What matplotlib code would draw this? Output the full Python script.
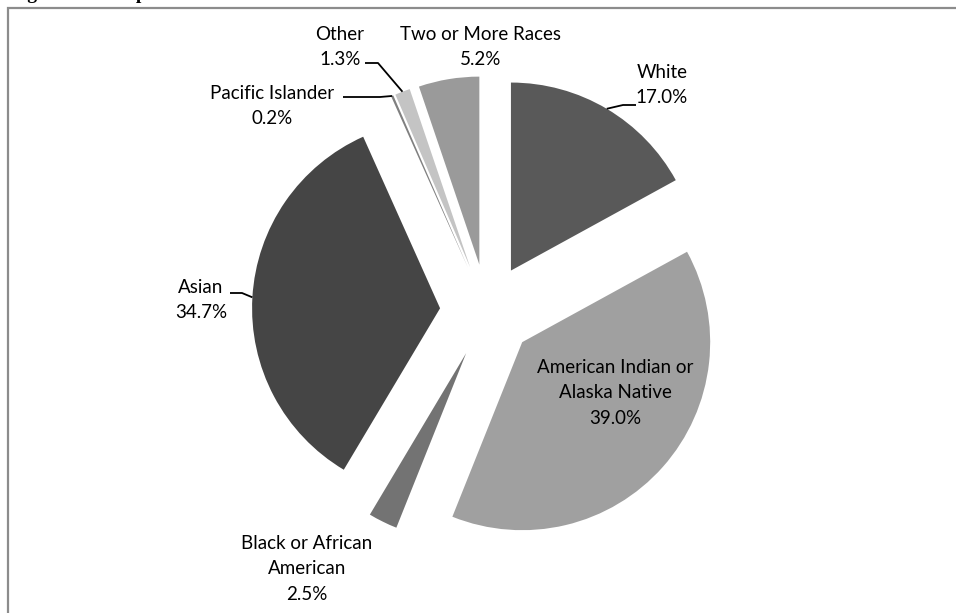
import numpy as np
import matplotlib.pyplot as plt
from matplotlib.patches import Rectangle

# Racial make-up of the sample, clockwise from 12 o'clock
races = ["White", "American Indian or\nAlaska Native", "Black or African\nAmerican",
         "Asian", "Pacific Islander", "Other", "Two or More Races"]
shares = [17.0, 39.0, 2.5, 34.7, 0.2, 1.3, 5.2]
colors = ["#595959", "#a0a0a0", "#737373", "#454545", "#808080", "#c4c4c4", "#9a9a9a"]

W, H = 956, 613
CX, CY, R = 487, 311, 188  # pie centre and radius in pixels


def to_data(x, y):
    return (x - CX) / R, (CY - y) / R


plt.rcParams["font.family"] = ["Lato", "DejaVu Sans"]

fig = plt.figure(figsize=(W / 100, H / 100), dpi=100)
ax = fig.add_axes([0, 0, 1, 1])
wedges, _ = ax.pie(shares, colors=colors, startangle=90, counterclock=False,
                   explode=[0.25] * len(shares), wedgeprops=dict(linewidth=0))
ax.set_xlim(-CX / R, (W - CX) / R)
ax.set_ylim(-(H - CY) / R, CY / R)
ax.set_aspect("auto")
ax.axis("off")

# label text centres (px) and optional leader-line start/elbow points
label_xy = [(662, 85), (615, 393), (307, 569), (201, 300), (272, 106), (340, 47), (481, 47)]
leaders = {
    0: [(636, 105), (623, 105)],
    3: [(230, 293), (242, 293)],
    4: [(343, 97), (380, 97)],
    5: [(365, 63), (378, 63)],
}

for i, (name, val) in enumerate(zip(races, shares)):
    tx, ty = to_data(*label_xy[i])
    ax.text(tx, ty, f"{name}\n{val:.1f}%", ha="center", va="center",
            fontsize=13.5, linespacing=1.62, color="black")
    if i in leaders:
        w = wedges[i]
        mid = np.deg2rad((w.theta1 + w.theta2) / 2)
        ex = w.center[0] + w.r * np.cos(mid)
        ey = w.center[1] + w.r * np.sin(mid)
        pts = [to_data(*p) for p in leaders[i]] + [(ex, ey)]
        ax.plot([p[0] for p in pts], [p[1] for p in pts], color="black", lw=1.3,
                solid_capstyle="butt")

# chart frame and the caption above it (runs off the top edge)
fig.add_artist(Rectangle((8 / W, -0.1), 1.2, (H - 8) / H + 0.1, transform=fig.transFigure,
                         fill=False, edgecolor="#8c8c8c", linewidth=1.6))
fig.text(10 / W, (H + 1) / H, "Figure 10. Sample Distribution for the Racial Scenario",
         fontfamily="Liberation Serif", fontweight="bold", fontsize=14, va="baseline")

fig.savefig("out.png", dpi=100)
